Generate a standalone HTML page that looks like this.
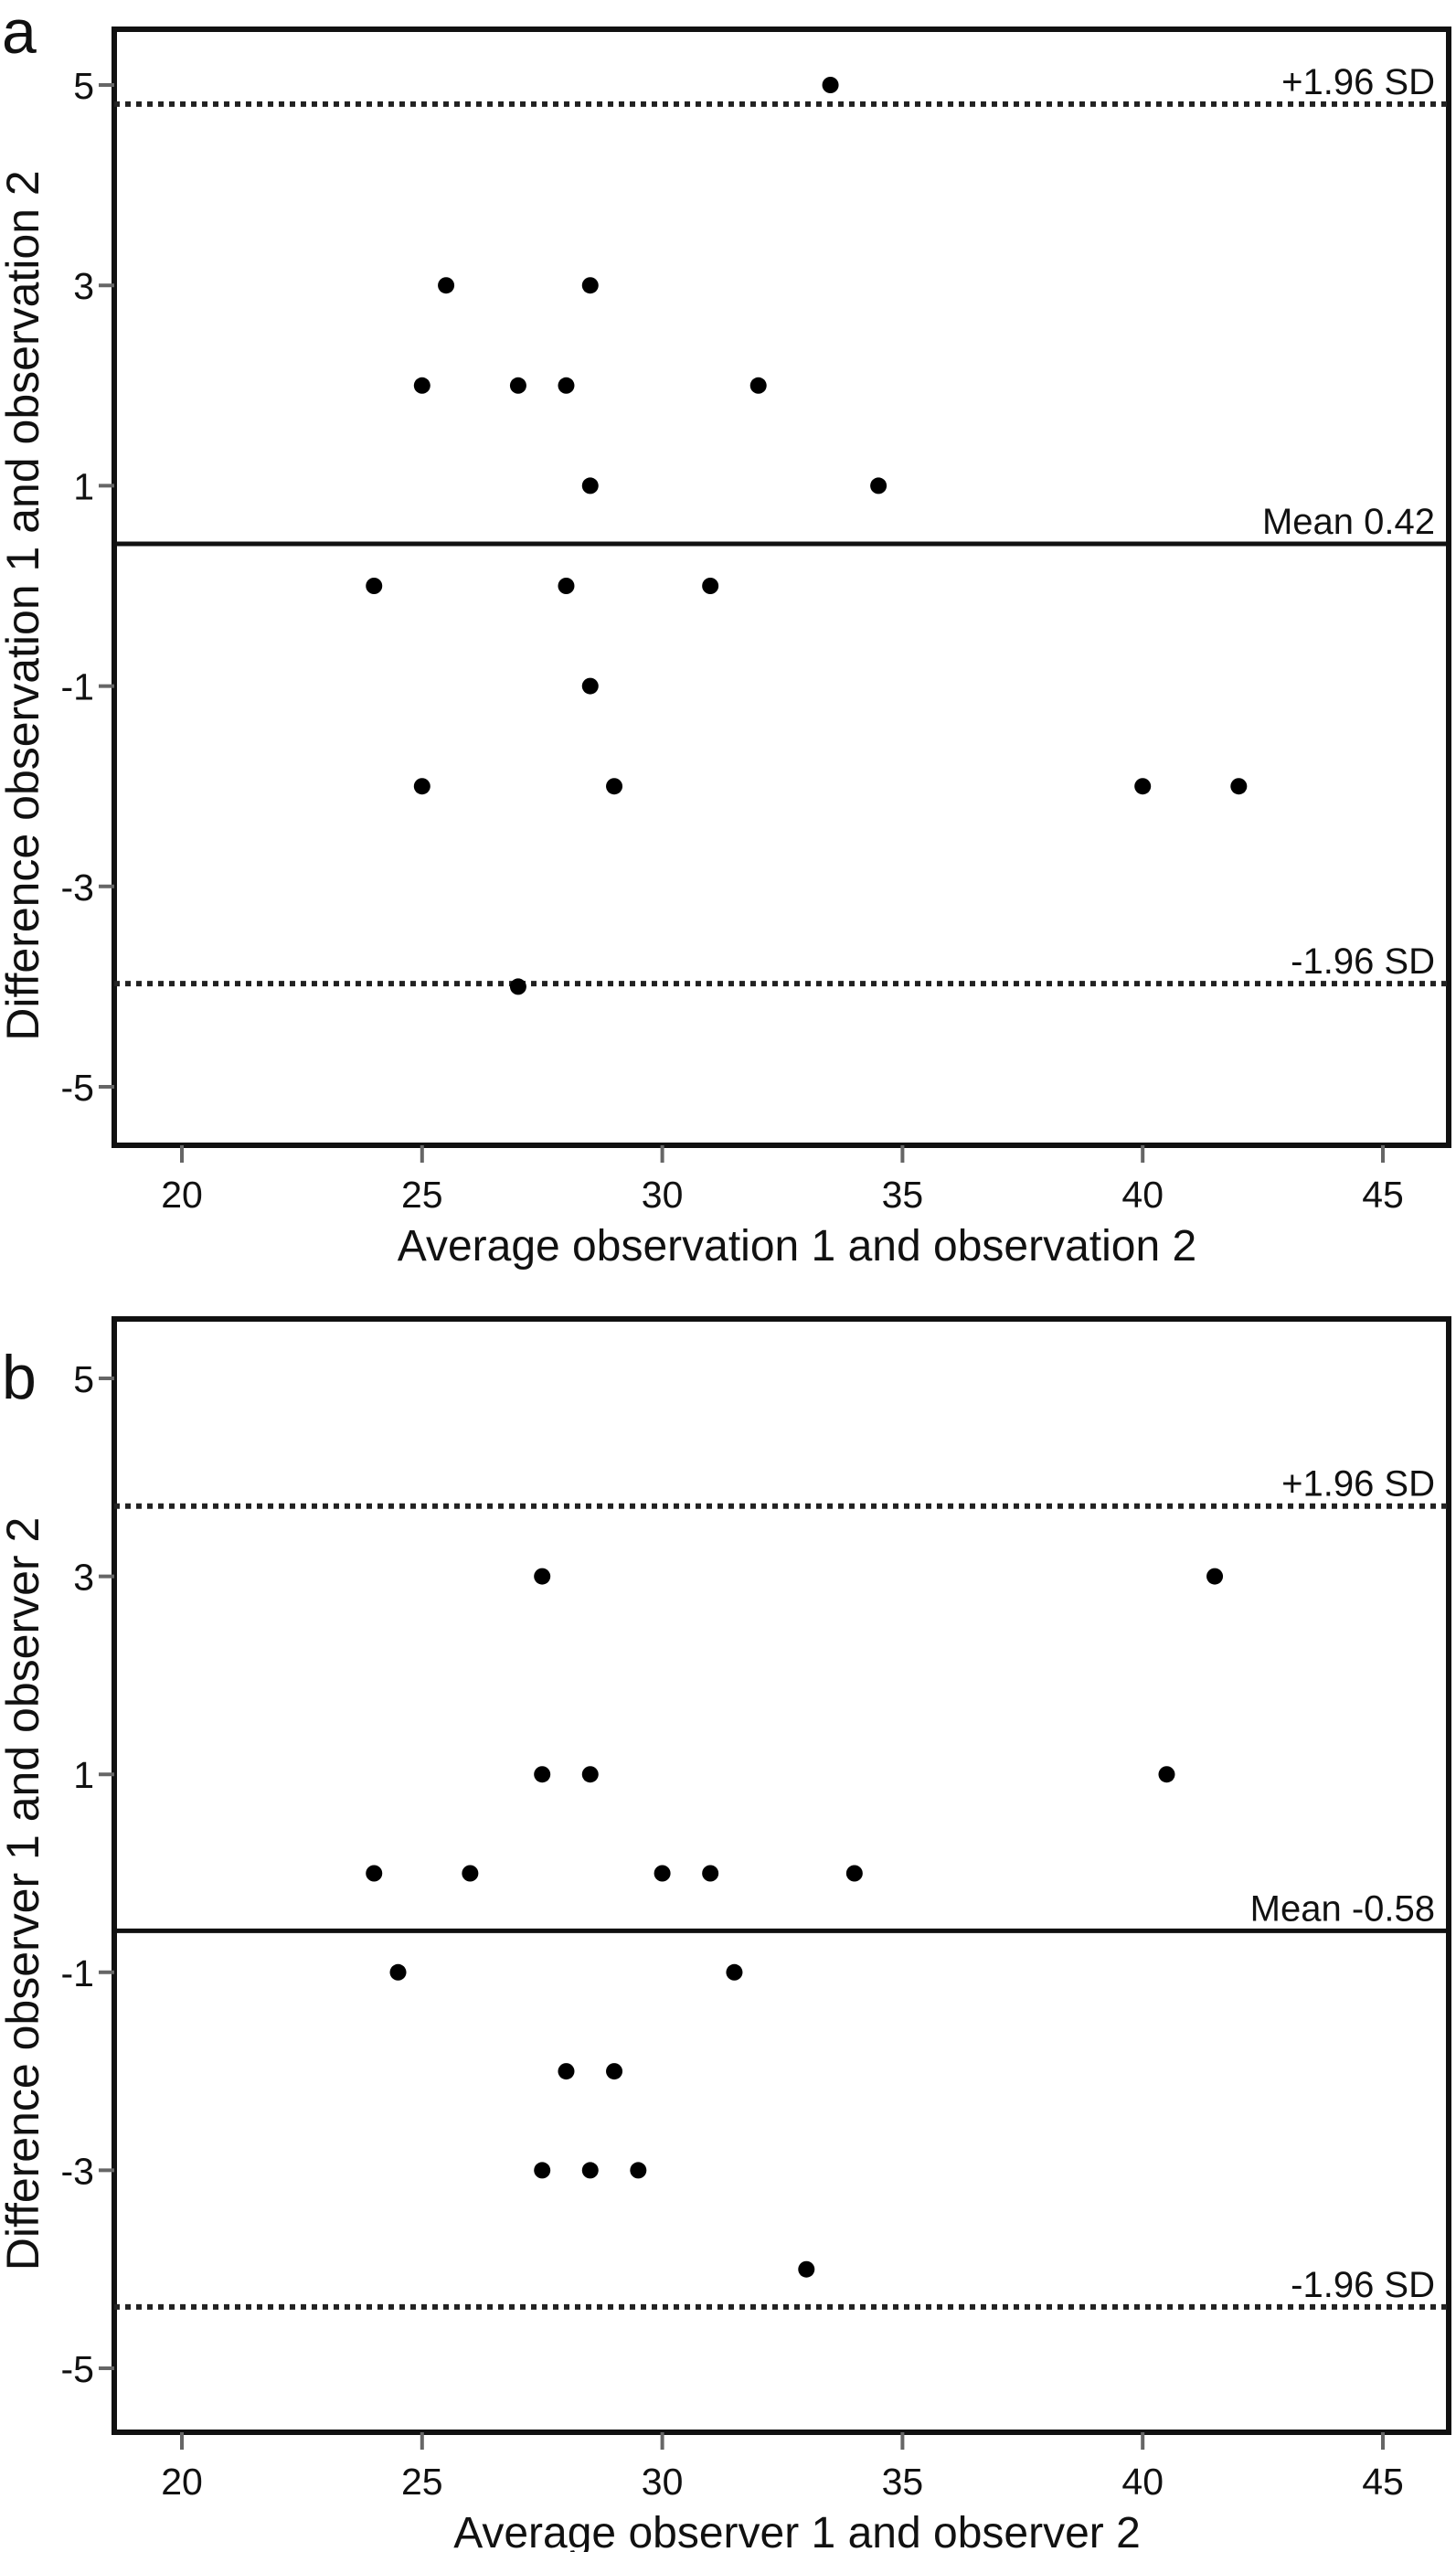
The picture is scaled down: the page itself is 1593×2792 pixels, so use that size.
<!DOCTYPE html>
<html><head><meta charset="utf-8"><style>
html,body{margin:0;padding:0;background:#fff}
svg{display:block;font-family:"Liberation Sans",Arial,sans-serif}
</style></head><body>
<svg id="chart" width="1593" height="2792" viewBox="0 0 1593 2792" xmlns="http://www.w3.org/2000/svg"></svg>
<script>
// Panel a data
const aX = [33.5,25.5,28.5,25,27,28,32,28.5,34.5,24,28,31,28.5,25,29,40,42,27];
const aY = [5,3,3,2,2,2,2,1,1,0,0,0,-1,-2,-2,-2,-2,-4];
const aMean = 0.42, aUpper = 4.81, aLower = -3.97;
// Panel b data
const bX = [27.5,41.5,27.5,28.5,40.5,24,26,30,31,34,24.5,31.5,28,29,27.5,28.5,29.5,33];
const bY = [3,3,1,1,1,0,0,0,0,0,-1,-1,-2,-2,-3,-3,-3,-4];
const bMean = -0.58, bUpper = 3.71, bLower = -4.38;
const xTicks = [20,25,30,35,40,45];
const yTicks = [5,3,1,-1,-3,-5];

const NS = "http://www.w3.org/2000/svg";
const svg = document.getElementById('chart');
function mk(tag, attrs, parent, text){
  const e = document.createElementNS(NS, tag);
  for (const k in attrs) e.setAttribute(k, attrs[k]);
  if (text !== undefined) e.textContent = text;
  (parent||svg).appendChild(e);
  return e;
}

function panel(cfg){
  const g = mk('g', {});
  
  
  const L=125, R=1585, T=cfg.top, B=cfg.bottom;
  const xs = v => 199 + (v-20)*(1513-199)/25;
  const ys = v => cfg.y5 + (5-v)*cfg.unit;
  const fr = mk('rect', {x:L, y:T, width:R-L, height:B-T, fill:'none', stroke:'#111', 'stroke-width':6}, g);
  
  
  yTicks.forEach(t=>{
    const y = ys(t);
    const tk = mk('line', {x1:L-17, x2:L, y1:y, y2:y, stroke:'#666', 'stroke-width':4}, g);
    
    
    const tl = mk('text', {x:L-22, y:y+15, 'text-anchor':'end', 'font-size':41, fill:'#111'}, g, String(t));
    
    
  });
  xTicks.forEach(t=>{
    const x = xs(t);
    const tk = mk('line', {x1:x, x2:x, y1:B, y2:B+19, stroke:'#666', 'stroke-width':4}, g);
    
    
    const tl = mk('text', {x:x, y:B+68, 'text-anchor':'middle', 'font-size':41, fill:'#111'}, g, String(t));
    
    
  });
  const up = mk('line', {x1:L, x2:R, y1:ys(cfg.upper), y2:ys(cfg.upper), stroke:'#222', 'stroke-width':6, 'stroke-dasharray':'6 6'}, g);
  
  
  const lo = mk('line', {x1:L, x2:R, y1:ys(cfg.lower), y2:ys(cfg.lower), stroke:'#222', 'stroke-width':6, 'stroke-dasharray':'6 6'}, g);
  
  
  const mn = mk('line', {x1:L, x2:R, y1:ys(cfg.mean), y2:ys(cfg.mean), stroke:'#111', 'stroke-width':5}, g);
  
  
  const t1 = mk('text', {x:1570, y:ys(cfg.upper)-11, 'text-anchor':'end', 'font-size':40, fill:'#111'}, g, '+1.96 SD');
  
  
  const t2 = mk('text', {x:1570, y:ys(cfg.lower)-11, 'text-anchor':'end', 'font-size':40, fill:'#111'}, g, '-1.96 SD');
  
  
  const t3 = mk('text', {x:1570, y:ys(cfg.mean)-11, 'text-anchor':'end', 'font-size':40, fill:'#111'}, g, 'Mean ' + cfg.mean.toFixed(2));
  
  
  cfg.xv.forEach((v,i)=>{
    const c = mk('circle', {cx:xs(v), cy:ys(cfg.yv[i]), r:9, fill:'#000'}, g);
    
    
  });
  const xt = mk('text', {x:(L+R)/2+17, y:B+126, 'text-anchor':'middle', 'font-size':48, fill:'#111'}, g, cfg.xTitle);
  
  
  const cy = (T+B)/2 + 20;
  const yt = mk('text', {x:42, y:cy, 'text-anchor':'middle', 'font-size':50, fill:'#111', transform:'rotate(-90 42 '+cy+')'}, g, cfg.yTitle);
  
  
  const pl = mk('text', {x:2, y:cfg.letterY, 'font-size':68, fill:'#111'}, g, cfg.letter);
  
  
}

panel({name:'panel-a', top:32, bottom:1253, y5:93, unit:109.6, xv:aX, yv:aY, mean:aMean, upper:aUpper, lower:aLower,
  xTitle:'Average observation 1 and observation 2', yTitle:'Difference observation 1 and observation 2', letter:'a', letterY:58});
panel({name:'panel-b', top:1443, bottom:2661, y5:1508, unit:108.3, xv:bX, yv:bY, mean:bMean, upper:bUpper, lower:bLower,
  xTitle:'Average observer 1 and observer 2', yTitle:'Difference observer 1 and observer 2', letter:'b', letterY:1530});
</script>
</body></html>
